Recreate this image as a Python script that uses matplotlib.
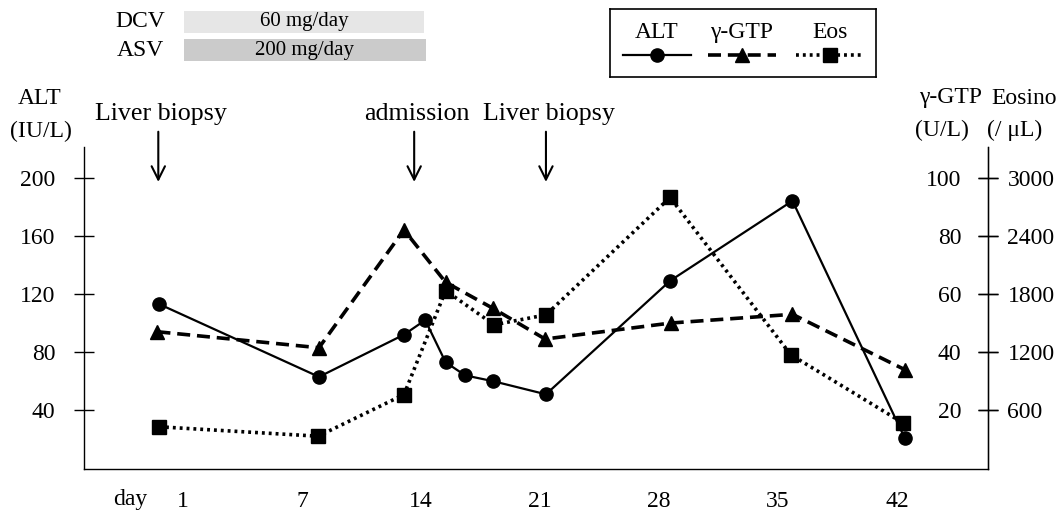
import matplotlib
matplotlib.use('Agg')
import matplotlib.pyplot as plt

plt.rcParams['font.family'] = ['Liberation Serif', 'DejaVu Serif']

# x positions in "day" units (label "1" sits at 0)
alt_day = [-1.4, 8.0, 13.0, 14.25, 15.45, 16.6, 18.25, 21.35, 28.65, 35.85, 42.45]
alt = [113, 63, 92, 102, 73, 64, 60, 51, 129, 184, 21]

gtp_day = [-1.5, 8.0, 13.0, 15.45, 18.25, 21.3, 28.7, 35.85, 42.45]
gtp = [47, 41.5, 82, 64, 55, 44.5, 50, 53, 34]

eos_day = [-1.4, 7.95, 13.0, 15.45, 18.3, 21.35, 28.65, 35.75, 42.35]
eos = [430, 333, 762, 1834, 1482, 1584, 2795, 1173, 470]

day_ticks = [0, 7, 14, 21, 28, 35, 42]
day_labels = ['1', '7', '14', '21', '28', '35', '42']

events = ['Liver biopsy', 'admission', 'Liver biopsy']
event_day = [-1.45, 13.6, 21.35]

drugs = ['DCV', 'ASV']
doses = ['60 mg/day', '200 mg/day']
drug_start = [0.05, 0.05]
drug_end = [14.2, 14.3]
drug_col = ['#e6e6e6', '#cbcbcb']

W, H = 1062, 515
fig = plt.figure(figsize=(W / 100, H / 100), dpi=100)

ax = fig.add_axes([84 / W, 1 - 468.5 / H, (988 - 84) / W, (468.5 - 147) / H])
ax2 = ax.twinx()
ax3 = ax.twinx()

fs = 17

# ALT
ax.plot(alt_day, alt, color='black', lw=1.6, marker='o', ms=9.5, zorder=5)
ax.set_ylim(0, 221)
ax.set_xlim(-5.82, 47.35)
ax.set_yticks([40, 80, 120, 160, 200])
ax.tick_params(axis='y', direction='inout', length=15, width=1.0, pad=13, labelsize=fs)
ax.set_xticks(day_ticks)
ax.set_xticklabels(day_labels)
ax.tick_params(axis='x', length=0, pad=16, labelsize=fs)
ax.spines['top'].set_visible(False)
for s in ['left', 'right', 'bottom']:
    ax.spines[s].set_linewidth(1.0)

# gamma-GTP, labels inside the right spine
ax2.plot(gtp_day, gtp, color='black', lw=2.6, ls=(0, (3.6, 1.9)), marker='^', ms=9.5)
ax2.set_ylim(0, 110.5)
ax2.spines['left'].set_position(('axes', 1.0))
ax2.yaxis.set_ticks_position('left')
ax2.set_yticks([20, 40, 60, 80, 100])
ax2.tick_params(axis='y', direction='inout', length=15, width=1.0, pad=11.5, labelsize=fs)
for s in ['top', 'right', 'bottom']:
    ax2.spines[s].set_visible(False)

# Eosinophils
ax3.plot(eos_day, eos, color='black', lw=2.6, ls=(0, (0.8, 1.1)), marker='s', ms=9.5)
ax3.set_ylim(0, 221 * 15)
ax3.set_yticks([600, 1200, 1800, 2400, 3000])
ax3.tick_params(axis='y', direction='inout', length=15, width=1.0, pad=6.5, labelsize=fs)
for s in ['top', 'left', 'bottom']:
    ax3.spines[s].set_visible(False)

ax.set_xlim(-5.82, 47.35)

# day label
ax.text(-3.1, -0.095, 'day', transform=ax.get_xaxis_transform(), ha='center',
        va='center', fontsize=fs)

# events with arrows
for name, d in zip(events, event_day):
    ax.annotate('', xy=(d, 197), xytext=(d, 231.5), annotation_clip=False,
                arrowprops=dict(arrowstyle='->', lw=1.5, color='black',
                                mutation_scale=24, shrinkA=0, shrinkB=0))
    ax.text(d + 0.15, 244, name, ha='center', va='center', fontsize=18.7, clip_on=False)

# axis titles
fig.text(40 / W, 1 - 99 / H, 'ALT', ha='center', va='center', fontsize=fs)
fig.text(41 / W, 1 - 131 / H, '(IU/L)', ha='center', va='center', fontsize=fs)
fig.text(951 / W, 1 - 98 / H, 'γ-GTP', ha='center', va='center', fontsize=fs)
fig.text(1024 / W, 1 - 98 / H, 'Eosino', ha='center', va='center', fontsize=fs)
fig.text(942 / W, 1 - 130 / H, '(U/L)', ha='center', va='center', fontsize=fs)
fig.text(1015 / W, 1 - 130 / H, '(/ μL)', ha='center', va='center', fontsize=fs)

# drug bars on top
bax = fig.add_axes([84 / W, 1 - 64 / H, (988 - 84) / W, 56 / H], sharex=ax)
bax.barh(range(len(drugs)), [e - s for s, e in zip(drug_start, drug_end)],
         left=drug_start, height=0.8, color=drug_col, edgecolor='none')
for i, (dname, dose) in enumerate(zip(drugs, doses)):
    mid = (drug_start[i] + drug_end[i]) / 2
    bax.text(mid, i, dose, ha='center', va='center', fontsize=15)
    bax.text(-2.5, i, dname, ha='center', va='center', fontsize=fs)
bax.set_ylim(1.5, -0.5)
bax.axis('off')

# legend box: text above each line sample
lax = fig.add_axes([610 / W, 1 - 77 / H, 266 / W, 68 / H])
lax.set_xlim(0, 1)
lax.set_ylim(0, 1)
lax.set_xticks([])
lax.set_yticks([])
for s in lax.spines.values():
    s.set_linewidth(1.2)
leg = [('ALT', 0.177, '-', 1.6, 'o'),
       ('γ-GTP', 0.496, (0, (3.6, 1.9)), 2.6, '^'),
       ('Eos', 0.827, (0, (0.8, 1.1)), 2.6, 's')]
for name, cx, ls, lw, mk in leg:
    lax.plot([cx - 0.128, cx + 0.128], [0.32, 0.32], color='black', ls=ls, lw=lw)
    lax.plot([cx], [0.32], color='black', marker=mk, ms=9.5)
    lax.text(cx, 0.66, name, ha='center', va='center', fontsize=fs)

fig.savefig('out.png', dpi=100)
